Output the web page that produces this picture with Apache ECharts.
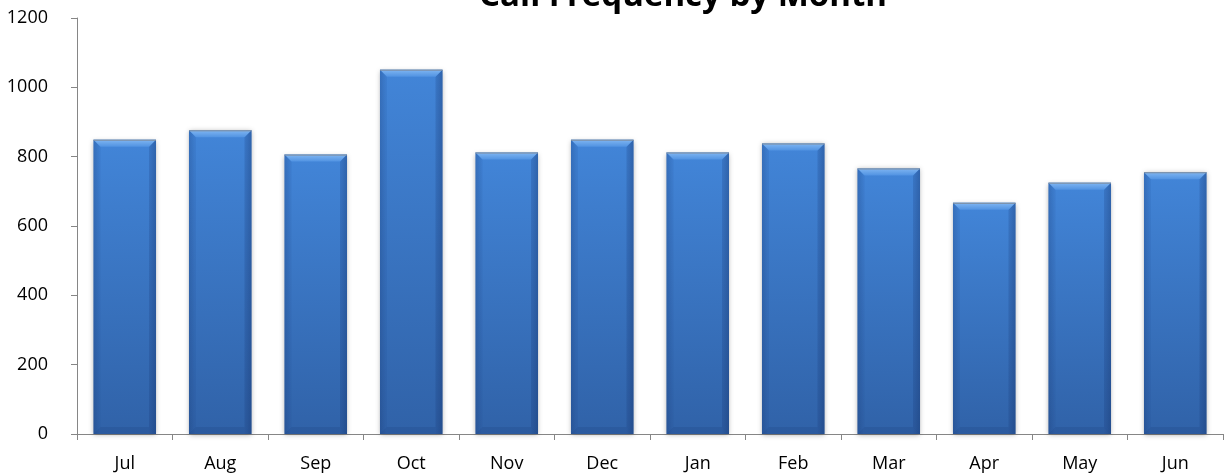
<!DOCTYPE html>
<html>
<head>
<meta charset="utf-8">
<script src="https://cdn.jsdelivr.net/npm/echarts@6/dist/echarts.min.js"></script>
<style>
html,body{margin:0;padding:0;background:#fff;}
#chart{width:1227px;height:473px;}
</style>
</head>
<body>
<div id="chart"></div>
<script>
const titleText = 'Call Frequency by Month';
const months = ['Jul','Aug','Sep','Oct','Nov','Dec','Jan','Feb','Mar','Apr','May','Jun'];
const calls = [849, 876, 806, 1051, 812, 849, 812, 838, 766, 667, 725, 755];
const yTicks = { min: 0, max: 1200, interval: 200 };

const chart = echarts.init(document.getElementById('chart'), null, {renderer:'canvas'});

function renderBar(params, api) {
  const idx = api.value(0);
  const val = api.value(1);
  const base = api.coord([idx, 0]);
  const top = api.coord([idx, val]);
  const band = api.size([1, 0])[0];
  const w = band * 0.655;
  const x = top[0] - w / 2;
  const y = top[1];
  const h = base[1] - top[1];
  const b = Math.min(7, h / 2);
  const g = echarts.graphic;
  return {
    type: 'group',
    children: [
      { type: 'rect', shape: {x: x, y: y, width: w, height: h},
        style: { fill: new g.LinearGradient(0,0,0,1,[{offset:0,color:'#4285d8'},{offset:1,color:'#3062a8'}]),
                 shadowBlur: 5, shadowColor: 'rgba(0,0,0,0.3)', shadowOffsetX: 0, shadowOffsetY: 1 } },
      { type: 'rect', shape: {x: x, y: y, width: w, height: h},
        style: { fill: new g.LinearGradient(0,0,1,0,[
          {offset:0,color:'rgba(15,40,90,0.18)'},{offset:0.1,color:'rgba(15,40,90,0.0)'},
          {offset:0.88,color:'rgba(15,40,90,0.0)'},{offset:1,color:'rgba(15,40,90,0.25)'}]) } },
      { type: 'polygon', shape: {points: [[x,y],[x+b,y+b],[x+b,y+h-b],[x,y+h]]},
        style: { fill: 'rgba(30,70,140,0.10)' } },
      { type: 'polygon', shape: {points: [[x+w,y],[x+w-b,y+b],[x+w-b,y+h-b],[x+w,y+h]]},
        style: { fill: 'rgba(20,50,110,0.15)' } },
      { type: 'polygon', shape: {points: [[x,y],[x+w,y],[x+w-b,y+b],[x+b,y+b]]},
        style: { fill: new g.LinearGradient(0,0,0,1,[{offset:0,color:'#80b6f2'},{offset:1,color:'#5193e2'}]) } },
      { type: 'polygon', shape: {points: [[x,y+h],[x+w,y+h],[x+w-b,y+h-b],[x+b,y+h-b]]},
        style: { fill: 'rgba(20,50,110,0.15)' } },
      { type: 'line', shape: {x1: x, y1: y+0.5, x2: x+w, y2: y+0.5},
        style: { stroke: '#7e8a99', lineWidth: 1 } }
    ]
  };
}

chart.setOption({
  animation: false,
  backgroundColor: '#ffffff',
  title: {
    text: titleText,
    left: 683, top: -21, textAlign: 'center', padding: 0,
    textStyle: { fontFamily: 'Open Sans', fontWeight: 'bold', fontSize: 33, color: '#000', lineHeight: 36 }
  },
  grid: { left: 77, right: 4, top: 18, bottom: 39, containLabel: false, outerBoundsMode: 'none' },
  xAxis: {
    type: 'category', data: months,
    axisLine: { lineStyle: { color: '#868686', width: 1 } },
    axisTick: { show: true, length: 6, lineStyle: { color: '#868686' } },
    axisLabel: { color: '#000', fontFamily: 'Open Sans', fontSize: 18, margin: 21 },
    splitLine: { show: false }
  },
  yAxis: {
    type: 'value', min: yTicks.min, max: yTicks.max, interval: yTicks.interval,
    axisLine: { show: true, lineStyle: { color: '#868686', width: 1 } },
    axisTick: { show: true, length: 6, lineStyle: { color: '#868686' } },
    axisLabel: { color: '#000', fontFamily: 'Open Sans', fontSize: 18, margin: 29, formatter: v => String(v) },
    splitLine: { show: false }
  },
  series: [{
    type: 'custom',
    renderItem: renderBar,
    encode: { x: 0, y: 1 },
    data: calls.map((v, i) => [i, v]),
    z: 1
  }]
});
</script>
</body>
</html>
